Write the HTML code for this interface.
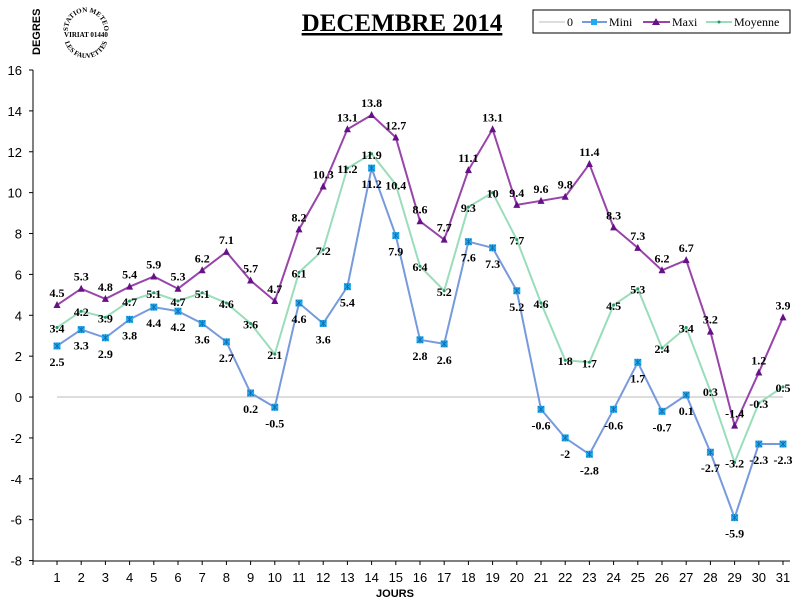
<!DOCTYPE html>
<html><head><meta charset="utf-8"><style>
body{margin:0;background:#fff;}
svg{display:block}
</style></head><body>
<svg id="s" width="801" height="606" xmlns="http://www.w3.org/2000/svg" font-family="Liberation Sans, sans-serif">
<rect width="801" height="606" fill="#fff"/>
<defs>
<path id="arcTop" d="M68,30 A18,18 0 0 1 104,30"/>
<path id="arcBot" d="M64,36 A22,22 0 0 0 108,36"/>
</defs>
<text x="402" y="31" text-anchor="middle" font-family="Liberation Serif, serif" font-weight="bold" font-size="25" text-decoration="underline">DECEMBRE 2014</text>
<text transform="translate(40,55) rotate(-90)" font-size="11" font-weight="bold">DEGRES</text>
<g font-family="Liberation Serif, serif" font-weight="bold">
<text font-size="7"><textPath href="#arcTop" startOffset="50%" text-anchor="middle">STATION METEO</textPath></text>
<text x="86" y="37" text-anchor="middle" font-size="7">VIRIAT 01440</text>
<text font-size="7"><textPath href="#arcBot" startOffset="50%" text-anchor="middle">LES FAUVETTES</textPath></text>
</g>
<rect x="533" y="10" width="257" height="23" fill="#fff" stroke="#000"/>
<line x1="539" y1="22" x2="565" y2="22" stroke="#bbb"/>
<text x="567" y="26" font-family="Liberation Serif, serif" font-size="12">0</text>
<line x1="582" y1="22" x2="607" y2="22" stroke="#7799dd" stroke-width="2"/>
<rect x="591" y="19" width="6" height="6" fill="#22aaee"/>
<text x="609" y="26" font-family="Liberation Serif, serif" font-size="12">Mini</text>
<line x1="643" y1="22" x2="670" y2="22" stroke="#9944aa" stroke-width="2"/>
<polygon points="656,18 660,25 652,25" fill="#661188"/>
<text x="672" y="26" font-family="Liberation Serif, serif" font-size="12">Maxi</text>
<line x1="706" y1="22" x2="732" y2="22" stroke="#99ddbb" stroke-width="2"/>
<circle cx="719" cy="22" r="1.5" fill="#229966"/>
<text x="734" y="26" font-family="Liberation Serif, serif" font-size="12">Moyenne</text>
<g id="g"></g>
</svg>
<script>
var g=document.getElementById('g'),h='';
function Y(v){return 70+(16-v)*20.44;}
function X(i){return 57+24.2*i;}
h+='<line x1="33" y1="70" x2="33" y2="561" stroke="#000"/><line x1="33" y1="561" x2="790" y2="561" stroke="#000"/>';
for(var v=-8;v<=16;v+=2){h+='<line x1="29" y1="'+Y(v)+'" x2="33" y2="'+Y(v)+'" stroke="#000"/><text x="22" y="'+(Y(v)+5)+'" text-anchor="end" font-size="13">'+v+'</text>';}
for(var i=0;i<31;i++){h+='<line x1="'+X(i)+'" y1="561" x2="'+X(i)+'" y2="565" stroke="#000"/><text x="'+X(i)+'" y="582" text-anchor="middle" font-size="13">'+(i+1)+'</text>';}
h+='<line x1="33" y1="565" x2="33" y2="561" stroke="#000"/>';
h+='<text x="395" y="597" text-anchor="middle" font-size="11" font-weight="bold">JOURS</text>';
h+='<line x1="57" y1="'+Y(0)+'" x2="783" y2="'+Y(0)+'" stroke="#bbb"/>';
var mi=[2.5,3.3,2.9,3.8,4.4,4.2,3.6,2.7,0.2,-0.5,4.6,3.6,5.4,11.2,7.9,2.8,2.6,7.6,7.3,5.2,-0.6,-2,-2.8,-0.6,1.7,-0.7,0.1,-2.7,-5.9,-2.3,-2.3];
var ma=[4.5,5.3,4.8,5.4,5.9,5.3,6.2,7.1,5.7,4.7,8.2,10.3,13.1,13.8,12.7,8.6,7.7,11.1,13.1,9.4,9.6,9.8,11.4,8.3,7.3,6.2,6.7,3.2,-1.4,1.2,3.9];
var mo=[3.4,4.2,3.9,4.7,5.1,4.7,5.1,4.6,3.6,2.1,6.1,7.2,11.2,11.9,10.4,6.4,5.2,9.3,10,7.7,4.6,1.8,1.7,4.5,5.3,2.4,3.4,0.3,-3.2,-0.3,0.5];
function pts(a){return a.map(function(v,i){return X(i)+','+Y(v)}).join(' ');}
h+='<polyline points="'+pts(mo)+'" fill="none" stroke="#99ddbb" stroke-width="2"/>';
h+='<polyline points="'+pts(mi)+'" fill="none" stroke="#7799dd" stroke-width="2"/>';
h+='<polyline points="'+pts(ma)+'" fill="none" stroke="#9944aa" stroke-width="2"/>';
var L='';
for(var i=0;i<31;i++){
var x=X(i),ym=Y(mi[i]);
h+='<circle cx="'+x+'" cy="'+Y(mo[i])+'" r="1.5" fill="#229966"/>';
h+='<rect x="'+(x-3.5)+'" y="'+(ym-3.5)+'" width="7" height="7" fill="#22aaee"/>';
h+='<path d="M'+(x-3)+','+(ym-3)+'L'+(x+3)+','+(ym+3)+'M'+(x+3)+','+(ym-3)+'L'+(x-3)+','+(ym+3)+'M'+x+','+(ym-3.5)+'V'+(ym+3.5)+'" stroke="#1166aa" stroke-width="0.7"/>';
h+='<polygon points="'+x+','+(Y(ma[i])-4)+' '+(x+3.5)+','+(Y(ma[i])+3)+' '+(x-3.5)+','+(Y(ma[i])+3)+'" fill="#661188"/>';
L+='<text x="'+x+'" y="'+(Y(ma[i])-8)+'">'+ma[i]+'</text>';
L+='<text x="'+x+'" y="'+(ym+20)+'">'+mi[i]+'</text>';
L+='<text x="'+x+'" y="'+(Y(mo[i])+5)+'">'+mo[i]+'</text>';
}
h+='<g font-family="Liberation Serif, serif" font-weight="bold" font-size="12" text-anchor="middle">'+L+'</g>';
g.innerHTML=h;
</script>
</body></html>
